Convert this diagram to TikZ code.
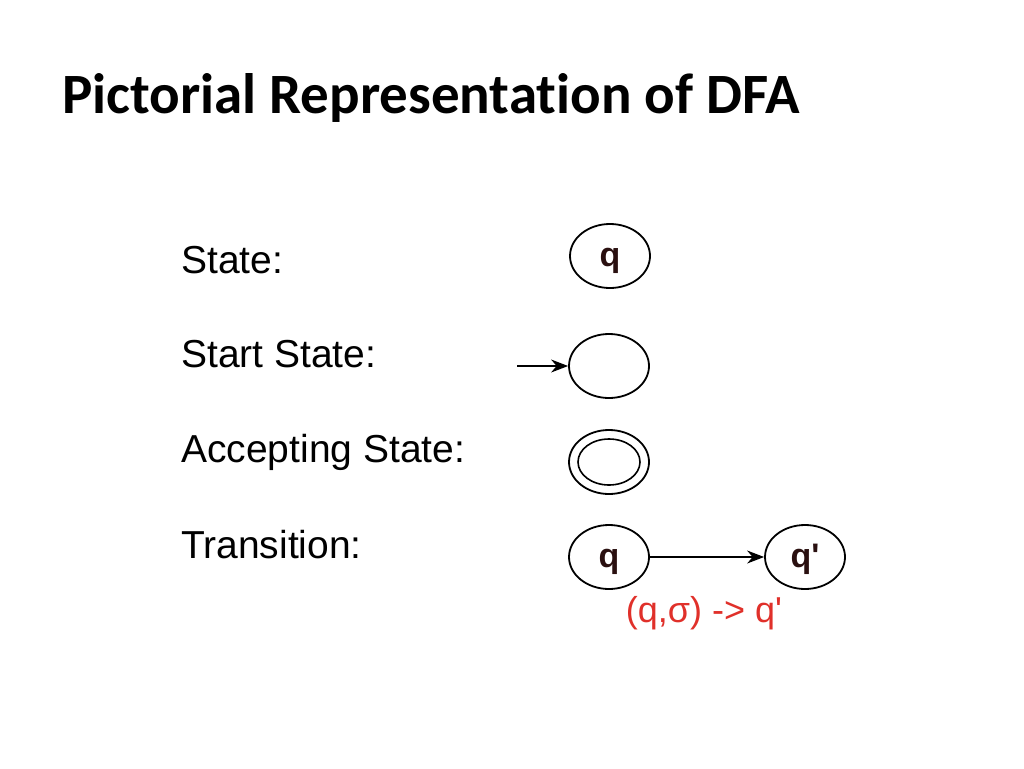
\documentclass[tikz,border=0pt]{standalone}
\usepackage{fontspec}
\setmainfont{Liberation Sans}[Ligatures=TeXOff]
\newfontfamily\titlefont{Carlito}[Ligatures={NoCommon,NoRare,NoDiscretionary}]
\usetikzlibrary{arrows.meta,shapes.geometric}
\definecolor{qcol}{HTML}{2A1010}
\definecolor{redlbl}{HTML}{E0302A}
\tikzset{
  lbl/.style={anchor=base west, inner sep=0pt, font=\fontsize{39}{41}\selectfont},
  st/.style={draw, ellipse, line width=1.8pt, minimum width=80pt, minimum height=64pt, inner sep=0pt, text height=20pt, text depth=0pt, font=\fontsize{34}{36}\selectfont\bfseries, text=qcol},
  arr/.style={line width=1.4pt, -{Stealth[length=17pt,width=13pt]}}
}
\begin{document}
\begin{tikzpicture}[x=1pt,y=-1pt]
\useasboundingbox (0,0) rectangle (1024,768);
\node[anchor=base west, inner sep=0pt, font=\titlefont\fontsize{57}{59}\selectfont\bfseries] (title) at (62,113) {Pictorial Representation of DFA};
\node[lbl] (l1) at (181,273) {State:};
\node[lbl] (l2) at (181,367) {Start State:};
\node[lbl] (l3) at (181,462) {Accepting State:};
\node[lbl] (l4) at (181,558) {Transition:};
\node[st] (s1) at (610,256) {q};
\node[st] (s2) at (609,366) {};
\coordinate (in) at (517,366);
\draw[arr] (in) -- (s2);
\node[st] (s3) at (609,462) {};
\node[draw, ellipse, line width=1.6pt, minimum width=62pt, minimum height=46pt] (s3i) at (609,462) {};
\node[st] (s4) at (609,557) {q};
\node[st] (s5) at (805,557) {q'};
\draw[arr] (s4) -- (s5);
\node[anchor=base, inner sep=0pt, text=redlbl, font=\fontsize{36}{38}\selectfont] (tl) at (704,622) {(q,σ) -> q'};
\end{tikzpicture}
\end{document}
